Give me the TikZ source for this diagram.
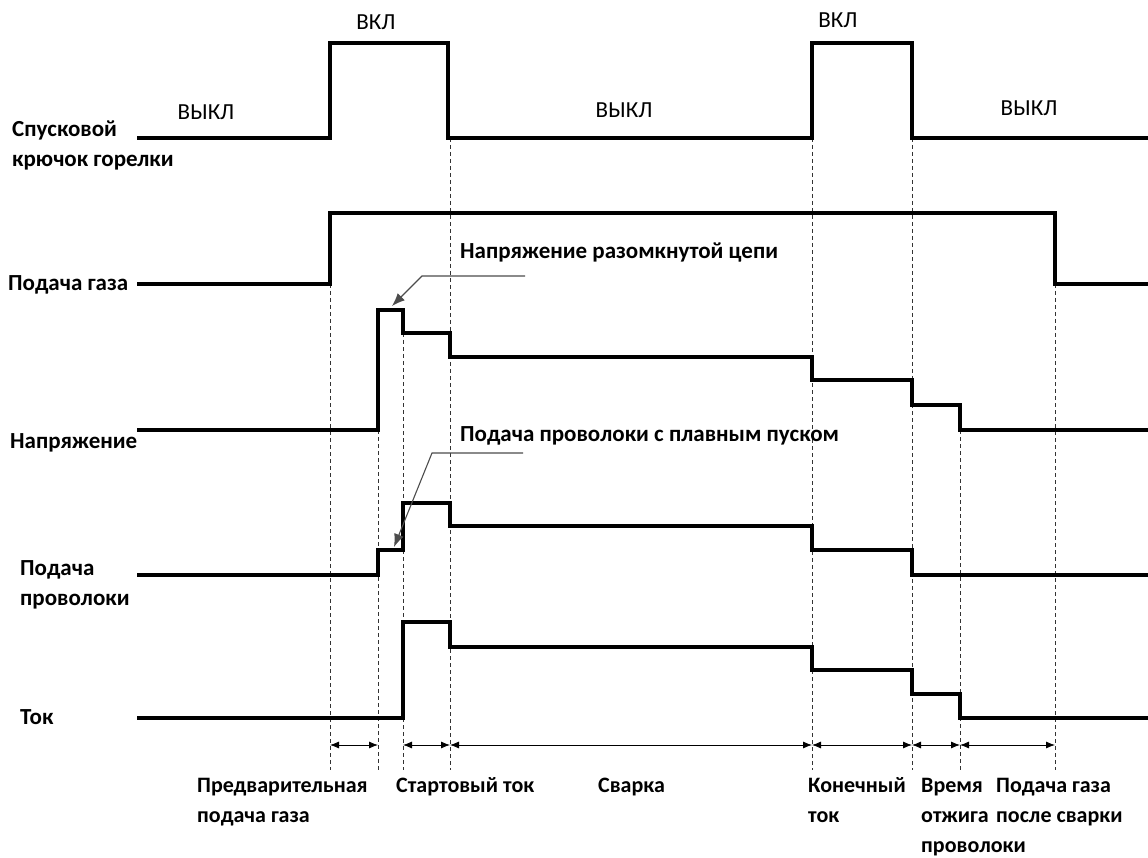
\documentclass[tikz,border=0pt]{standalone}
\usepackage{fontspec}
\setmainfont{Carlito}
\usetikzlibrary{positioning}
\usetikzlibrary{arrows.meta}

\begin{document}
\begin{tikzpicture}[x=1pt,y=-1pt,
  sig/.style={line width=3.6pt, line join=miter},
  guide/.style={line width=0.9pt, dash pattern=on 4pt off 3pt, black!80},
  lbl/.style={font=\fontsize{23}{30}\selectfont\bfseries, inner sep=0pt, anchor=base west, align=left},
  state/.style={font=\fontsize{23}{28}\selectfont, inner sep=0pt, anchor=base},
  phase/.style={font=\fontsize{22}{30}\selectfont\bfseries, inner sep=0pt, anchor=base west, align=left},
  dim/.style={line width=0.8pt, {Latex[length=9pt,width=7pt]}-{Latex[length=9pt,width=7pt]}},
  leader/.style={line width=1.1pt, black!70, -{Latex[length=13pt,width=10pt]}},
  ]
  \useasboundingbox (0,0) rectangle (1148,858);
  % guide lines
  \foreach \gx/\gy in {330/284, 378/430, 403/333, 450/138, 812/138, 912/138, 960/430, 1055/284}
    \draw[guide] (\gx,\gy) -- (\gx,770);
  % signals
  \draw[sig] (137,138) -- (330,138) -- (330,43) -- (448,43) -- (448,138) -- (812,138) -- (812,43) -- (912,43) -- (912,138) -- (1148,138);
  \draw[sig] (137,284) -- (330,284) -- (330,213) -- (1055,213) -- (1055,284) -- (1148,284);
  \draw[sig] (137,430) -- (378,430) -- (378,310) -- (403,310) -- (403,333) -- (450,333) -- (450,357) -- (812,357) -- (812,380) -- (912,380) -- (912,405) -- (960,405) -- (960,430) -- (1148,430);
  \draw[sig] (137,575) -- (378,575) -- (378,550) -- (403,550) -- (403,503) -- (450,503) -- (450,526) -- (812,526) -- (812,550) -- (912,550) -- (912,575) -- (1148,575);
  \draw[sig] (137,718) -- (403,718) -- (403,622) -- (450,622) -- (450,647) -- (812,647) -- (812,670) -- (912,670) -- (912,694) -- (960,694) -- (960,718) -- (1148,718);
  % signal names (base = last line)
  \node[lbl] (trig) at (12,167) {Спусковой\\крючок горелки};
  \node[lbl] (gas) at (8,291) {Подача газа};
  \node[lbl] (volt) at (10,448) {Напряжение};
  \node[lbl] (wire) at (20,605) {Подача\\проволоки};
  \node[lbl] (cur) at (20,724) {Ток};
  % states
  \node[state] (off1) at (206,120) {ВЫКЛ};
  \node[state] (on1) at (376,30) {ВКЛ};
  \node[state] (off2) at (624,118) {ВЫКЛ};
  \node[state] (on2) at (838,28) {ВКЛ};
  \node[state] (off3) at (1029,116) {ВЫКЛ};
  % callouts
  \node[lbl] (ocv) at (460,259) {Напряжение разомкнутой цепи};
  \coordinate (ocvA) at (525,276);
  \coordinate (ocvB) at (422,276);
  \coordinate (ocvC) at (392,306);
  \draw[leader] (ocvA) -- (ocvB) -- (ocvC);
  \node[lbl] (soft) at (460,441) {Подача проволоки с плавным пуском};
  \coordinate (softA) at (523,453);
  \coordinate (softB) at (432,453);
  \coordinate (softC) at (394,547);
  \draw[leader] (softA) -- (softB) -- (softC);
  % phases
  \foreach \xa/\xb in {330/378, 403/450, 450/812, 812/912, 912/960, 960/1055}
    \draw[dim] (\xa,745) -- (\xb,745);
  \node[phase] (pre) at (197,822) {Предварительная\\подача газа};
  \node[phase] (start) at (396,792) {Стартовый ток};
  \node[phase] (weld) at (598,792) {Сварка};
  \node[phase] (crater) at (808,822) {Конечный\\ток};
  \node[phase] (burn) at (921,852) {Время\\отжига\\проволоки};
  \node[phase] (post) at (996,822) {Подача газа\\после сварки};
\end{tikzpicture}
\end{document}
